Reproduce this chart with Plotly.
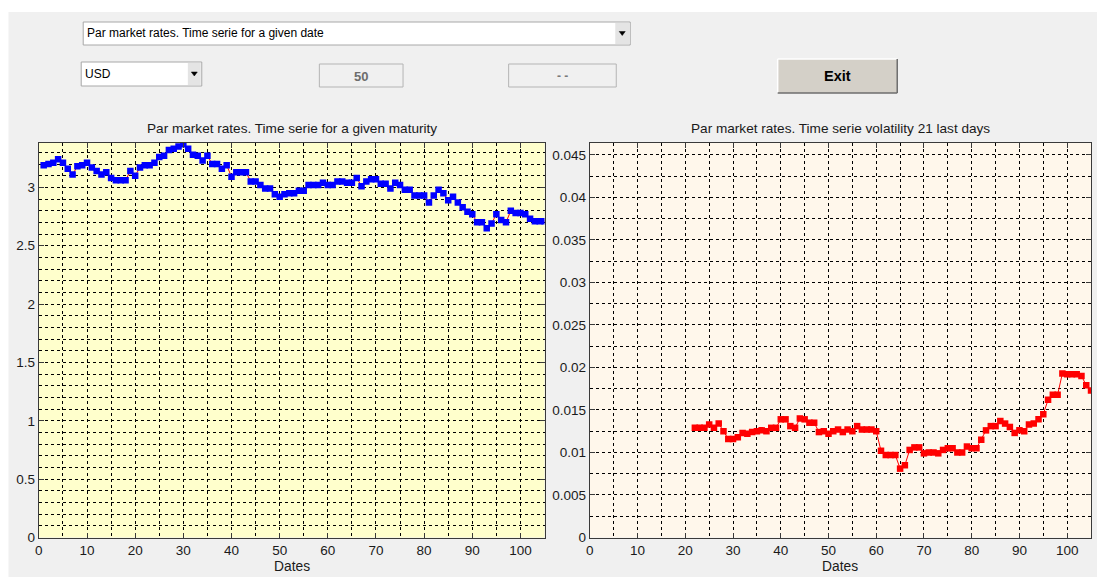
import plotly.graph_objects as go

# ---------------- data ----------------
left_dates = list(range(1, 106))
left_rates = [3.19, 3.20, 3.21, 3.24, 3.21, 3.16, 3.11, 3.18, 3.19, 3.21,
              3.17, 3.14, 3.11, 3.13, 3.08, 3.06, 3.06, 3.06, 3.14, 3.10,
              3.17, 3.19, 3.19, 3.21, 3.26, 3.27, 3.32, 3.33, 3.35, 3.37,
              3.33, 3.28, 3.27, 3.23, 3.27, 3.20, 3.20, 3.16, 3.19, 3.09,
              3.13, 3.13, 3.13, 3.05, 3.05, 3.02, 2.99, 2.99, 2.94, 2.92,
              2.94, 2.95, 2.95, 2.97, 2.97, 3.02, 3.02, 3.02, 3.04, 3.02,
              3.02, 3.05, 3.05, 3.04, 3.04, 3.08, 3.01, 3.05, 3.07, 3.07,
              3.03, 3.03, 2.99, 3.04, 3.02, 2.98, 2.98, 2.93, 2.93, 2.93,
              2.87, 2.93, 2.98, 2.95, 2.89, 2.92, 2.87, 2.83, 2.79, 2.77,
              2.70, 2.70, 2.65, 2.69, 2.77, 2.72, 2.70, 2.80, 2.78, 2.78,
              2.77, 2.73, 2.71, 2.71, 2.71]

right_dates = list(range(22, 106))
right_vol = [0.0129, 0.0129, 0.0129, 0.0133, 0.0129, 0.0134, 0.0125, 0.0116, 0.0116, 0.0118,
             0.0123, 0.0122, 0.0124, 0.0125, 0.0126, 0.0125, 0.0129, 0.0129, 0.0139, 0.0139,
             0.0131, 0.0129, 0.0140, 0.0139, 0.0135, 0.0135, 0.0124, 0.0125, 0.0122, 0.0125,
             0.0127, 0.0124, 0.0127, 0.0125, 0.0131, 0.0127, 0.0127, 0.0127, 0.0125, 0.0102,
             0.0097, 0.0097, 0.0097, 0.0081, 0.0085, 0.0103, 0.0106, 0.0106, 0.0099, 0.0100,
             0.0100, 0.0099, 0.0103, 0.0105, 0.0105, 0.0100, 0.0100, 0.0107, 0.0105, 0.0105,
             0.0115, 0.0126, 0.0131, 0.0131, 0.0137, 0.0134, 0.0130, 0.0123, 0.0126, 0.0125,
             0.0133, 0.0134, 0.0139, 0.0145, 0.0162, 0.0168, 0.0168, 0.0193, 0.0192, 0.0192,
             0.0192, 0.0190, 0.0179, 0.0173]

left_yticks = [0, 0.5, 1, 1.5, 2, 2.5, 3]
right_yticks = [0, 0.005, 0.01, 0.015, 0.02, 0.025, 0.03, 0.035, 0.04, 0.045]
xticks = [0, 10, 20, 30, 40, 50, 60, 70, 80, 90, 100]

left_title = "Par market rates. Time serie for a given maturity"
right_title = "Par market rates. Time serie volatility 21 last days"
menu_text = "Par market rates. Time serie for a given date"
currency_text = "USD"
maturity_text = "50"
date_text = "- -"
exit_text = "Exit"
xlabel = "Dates"

# ---------------- helpers ----------------
W, H = 1097, 577          # design space (reference pixels)
FIG_H = 585               # actual figure height
XOFF = -2.5               # horizontal correction
FONT = "Liberation Sans, Arial, sans-serif"


def px(x):
    return (x + XOFF) / W


def py(y):
    return 1 - y / H


shapes = []
annotations = []


def rect(x0, y0, x1, y1, fill, line="rgba(0,0,0,0)", lw=1, layer="above"):
    shapes.append(dict(type="rect", xref="paper", yref="paper",
                       x0=px(x0), x1=px(x1), y0=py(y1), y1=py(y0),
                       fillcolor=fill, line=dict(color=line, width=lw), layer=layer))


def seg(x0, y0, x1, y1, color, lw=1):
    shapes.append(dict(type="line", xref="paper", yref="paper",
                       x0=px(x0), x1=px(x1), y0=py(y0), y1=py(y1),
                       line=dict(color=color, width=lw), layer="above"))


def tri(cx, cy):
    path = "M {:.5f},{:.5f} L {:.5f},{:.5f} L {:.5f},{:.5f} Z".format(
        px(cx - 3), py(cy - 2), px(cx + 3), py(cy - 2), px(cx), py(cy + 2))
    shapes.append(dict(type="path", xref="paper", yref="paper", path=path,
                       fillcolor="black", line=dict(color="black", width=0.5), layer="above"))


def text(x, y, s, size=11, color="black", bold=False, xanchor="left"):
    annotations.append(dict(xref="paper", yref="paper", x=px(x), y=py(y), text=("<b>%s</b>" % s) if bold else s,
                            showarrow=False, xanchor=xanchor, yanchor="middle",
                            font=dict(family=FONT, size=size, color=color)))


LX0, LX1 = 37.5, 545
RX0, RX1 = 590.5, 1093.5
YT, YB = 143, 537.5

# background panels (below the plots, gridlines stay on top)
rect(7, 12, W + 5, H + 10, "#f0f0f0", layer="below")
rect(LX0, YT, LX1, YB, "#ffffcc", layer="below")
rect(RX0, YT, RX1, YB, "#fff7eb", layer="below")

# top drop-down
rect(82, 22, 631, 45, "white", "#a8a8a8")
rect(616, 23, 630, 44, "#e4e4e4")
tri(623, 33.5)
text(84, 33.5, menu_text, size=12)

# currency drop-down
rect(80, 62, 201, 86, "white", "#a8a8a8")
rect(187, 63, 200, 85, "#e4e4e4")
tri(193.5, 74)
text(82, 73.5, currency_text, size=12)

# maturity / date boxes
rect(319, 64, 403, 87, "#f0f0f0", "#b4b4b4")
text(361, 76, maturity_text, size=13, color="#6d6d6d", bold=True, xanchor="center")
rect(509, 64, 617, 87, "#f0f0f0", "#b4b4b4")
text(563, 75.5, date_text, size=12, color="#7a7a7a", bold=True, xanchor="center")

# Exit button
rect(779, 59, 899, 93, "#d4d0c8")
seg(779, 59, 899, 59, "#ffffff", 1.5)
seg(779, 59, 779, 93, "#ffffff", 1.5)
seg(779, 93, 899, 93, "#6e6e6e", 1.5)
seg(899, 59, 899, 93, "#6e6e6e", 1.5)
text(839.5, 76, exit_text, size=14.5, color="black", bold=True, xanchor="center")

# plot titles and x labels
text((LX0 + LX1) / 2, 128.5, left_title, size=13.6, color="#1a1a1a", xanchor="center")
text((RX0 + RX1) / 2, 128.5, right_title, size=13.6, color="#1a1a1a", xanchor="center")
text((LX0 + LX1) / 2, 566, xlabel, size=13.8, color="#1a1a1a", xanchor="center")
text((RX0 + RX1) / 2, 566, xlabel, size=13.8, color="#1a1a1a", xanchor="center")

# ---------------- figure ----------------
fig = go.Figure()
fig.add_trace(go.Scatter(x=left_dates, y=left_rates, mode="lines+markers",
                         line=dict(color="red", width=1),
                         marker=dict(symbol="square", size=6.5, color="blue", line=dict(width=0)),
                         xaxis="x", yaxis="y", showlegend=False, hoverinfo="skip"))
fig.add_trace(go.Scatter(x=right_dates, y=right_vol, mode="lines+markers",
                         line=dict(color="red", width=1),
                         marker=dict(symbol="square", size=6.5, color="red", line=dict(width=0)),
                         xaxis="x2", yaxis="y2", showlegend=False, hoverinfo="skip"))

grid = dict(showgrid=True, gridcolor="black", gridwidth=1, griddash="3px,3px",
            zeroline=False, showline=True, linecolor="#3a3a3a", linewidth=1.2, mirror="ticks",
            ticks="inside", ticklen=5, tickcolor="#3a3a3a",
            tickfont=dict(family=FONT, size=13.5, color="#1a1a1a"))


def axis(domain, rng, tickvals, minor_dtick, anchor):
    d = dict(grid)
    d.update(domain=domain, range=rng, tickmode="array", tickvals=tickvals,
             ticktext=[("%g" % v) for v in tickvals], anchor=anchor,
             minor=dict(dtick=minor_dtick, tick0=0, showgrid=True, gridcolor="black",
                        gridwidth=1, griddash="3px,3px", ticks=""))
    return d


fig.update_layout(
    width=W, height=FIG_H, autosize=False,
    margin=dict(l=0, r=0, t=0, b=0),
    paper_bgcolor="white",
    plot_bgcolor="rgba(0,0,0,0)",
    xaxis=axis([px(LX0), px(LX1)], [0, 105], xticks, 5, "y"),
    yaxis=axis([py(YB), py(YT)], [0, 3.38], left_yticks, 0.1, "x"),
    xaxis2=axis([px(RX0), px(RX1)], [0, 105], xticks, 5, "y2"),
    yaxis2=axis([py(YB), py(YT)], [0, 0.0464], right_yticks, 0.0025, "x2"),
    shapes=shapes,
    annotations=annotations,
    hovermode=False,
)

fig.write_html("out.html",
               config={"displayModeBar": False, "responsive": False, "staticPlot": True},
               default_width="1097px", default_height="%dpx" % FIG_H,
               post_script="document.body.style.margin='0';document.body.style.overflow='hidden';")
